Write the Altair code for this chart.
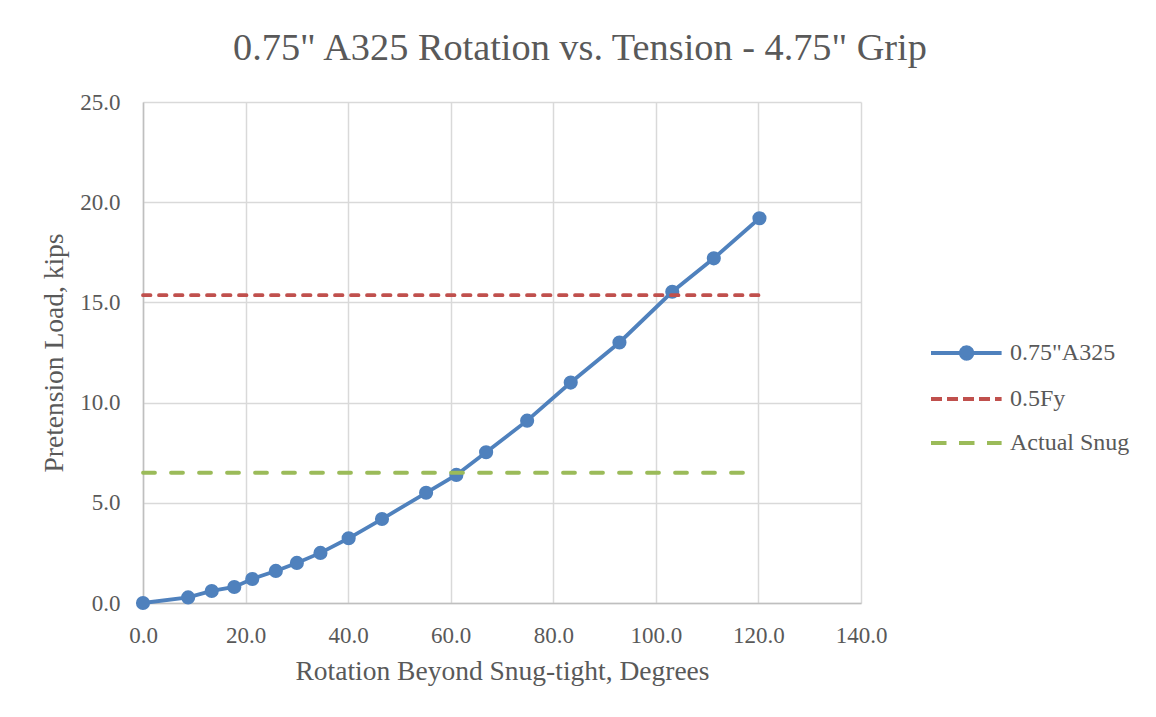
import altair as alt
import pandas as pd

# ---- data ----
rotation_deg = [0.0, 8.8, 13.4, 17.8, 21.3, 25.9, 30.0, 34.6, 40.1, 46.6,
                55.2, 61.1, 66.9, 74.9, 83.4, 92.9, 103.2, 111.3, 120.2]
pretension_kips = [0.0, 0.28, 0.6, 0.8, 1.2, 1.6, 2.0, 2.5, 3.23, 4.19,
                   5.5, 6.39, 7.52, 9.1, 11.0, 13.0, 15.53, 17.2, 19.2]

half_fy_x = [0.0, 120.2]
half_fy_kips = [15.36, 15.36]
snug_x = [0.0, 118.0]
snug_kips = [6.5, 6.5]

series_names = ['0.75"A325', '0.5Fy', 'Actual Snug']
series_colors = ['#4F81BD', '#C0504D', '#9BBB59']

x_ticks = [0, 20, 40, 60, 80, 100, 120, 140]
y_ticks = [0, 5, 10, 15, 20, 25]

FONT = "Liberation Serif"
TXT = "#595959"

main_df = pd.DataFrame({"x": rotation_deg, "y": pretension_kips})
fy_df = pd.DataFrame({"x": half_fy_x, "y": half_fy_kips})
snug_df = pd.DataFrame({"x": snug_x, "y": snug_kips})
legend_df = pd.DataFrame({"series": series_names})


def xenc():
    return alt.X("x:Q", scale=alt.Scale(domain=[0, 140], nice=False, zero=False),
                 axis=alt.Axis(values=x_ticks, format=".1f", labelFlush=False,
                               title="Rotation Beyond Snug-tight, Degrees",
                               labelPadding=21, titlePadding=10))


def yenc():
    return alt.Y("y:Q", scale=alt.Scale(domain=[0, 25], nice=False, zero=False),
                 axis=alt.Axis(values=y_ticks, format=".1f", labelFlush=False,
                               title="Pretension Load, kips",
                               labelPadding=23, titlePadding=11))


LW = 3.8

line = alt.Chart(main_df).mark_line(color=series_colors[0], strokeWidth=LW).encode(
    x=xenc(), y=yenc())
pts = alt.Chart(main_df).mark_point(filled=True, color=series_colors[0], opacity=1,
                                    size=200).encode(x=xenc(), y=yenc())
fy_line = alt.Chart(fy_df).mark_line(color=series_colors[1], strokeWidth=LW,
                                     strokeDash=[7.5, 8.5], strokeCap="round").encode(
    x=xenc(), y=yenc())
snug_line = alt.Chart(snug_df).mark_line(color=series_colors[2], strokeWidth=LW,
                                         strokeDash=[12, 16], strokeCap="round").encode(
    x=xenc(), y=yenc())

# legend symbols: line with a marker, and plain lines
c, r = 2.56, 0.575
k = 0.5523 * r
circle = (f"M{c-r},0C{c-r},{-k} {c-k},{-r} {c},{-r}"
          f"C{c+k},{-r} {c+r},{-k} {c+r},0"
          f"C{c+r},{k} {c+k},{r} {c},{r}"
          f"C{c-k},{r} {c-r},{k} {c-r},0Z")
path_marker = "M-1,0L6.06,0" + circle
path_line = "M-1,0L6.06,0"
legend_paths = [path_marker, path_line, path_line]
legend_dashes = [[1, 0], [11, 5], [15.5, 12.5]]

leg = alt.Legend(title=None, orient="none", legendX=786, legendY=239,
                 symbolSize=400, symbolStrokeWidth=LW, labelOffset=57,
                 rowPadding=20, padding=0)

legend_layer = alt.Chart(legend_df).transform_filter("false").mark_point(
    filled=True, opacity=1, strokeWidth=LW).encode(
    fill=alt.Fill("series:N", scale=alt.Scale(domain=series_names, range=series_colors), legend=leg),
    stroke=alt.Stroke("series:N", scale=alt.Scale(domain=series_names, range=series_colors), legend=leg),
    shape=alt.Shape("series:N", scale=alt.Scale(domain=series_names, range=legend_paths), legend=leg),
    strokeDash=alt.StrokeDash("series:N", scale=alt.Scale(domain=series_names, range=legend_dashes), legend=leg),
)

chart = alt.layer(line, pts, fy_line, snug_line, legend_layer).properties(
    width=718, height=501,
    title=alt.TitleParams('0.75" A325 Rotation vs. Tension - 4.75" Grip',
                          anchor="middle", frame="group", dx=78, dy=35, offset=28,
                          baseline="alphabetic", font=FONT, fontSize=38.3,
                          fontWeight="normal", color=TXT),
    autosize=alt.AutoSizeParams(type="none"),
    padding={"left": 135, "top": 94, "right": 287, "bottom": 106},
).configure_view(stroke=None).configure_axis(
    labelFont=FONT, labelFontSize=23, labelColor=TXT,
    titleFont=FONT, titleFontSize=27.5, titleColor=TXT, titleFontWeight="normal",
    ticks=False, tickSize=0, grid=True, gridColor="#D9D9D9", gridWidth=1.5,
    domainColor="#BFBFBF", domainWidth=1.5,
).configure_legend(
    labelFont=FONT, labelFontSize=24, labelColor=TXT,
)

chart.save("out.html", embed_options={"renderer": "svg", "actions": False})
